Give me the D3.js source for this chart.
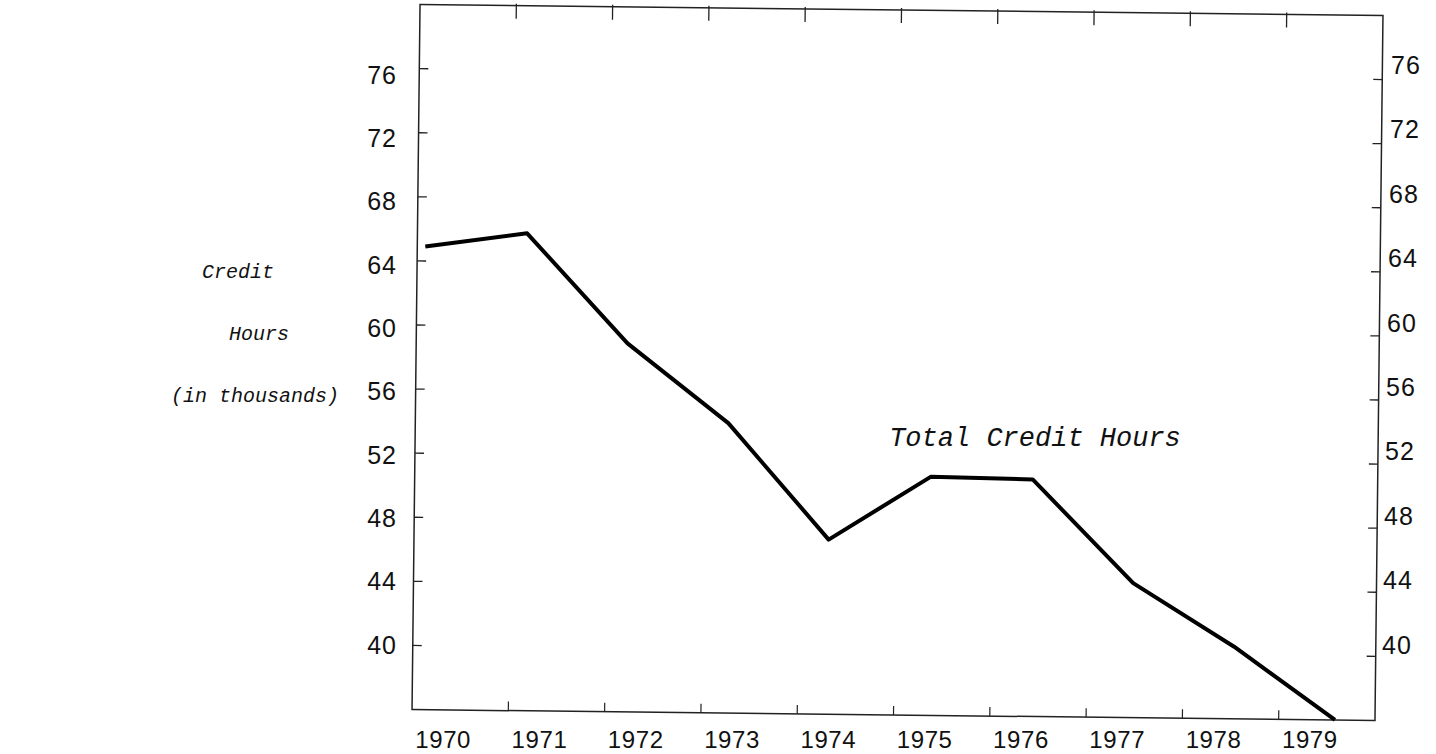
<!DOCTYPE html>
<html>
<head>
<meta charset="utf-8">
<script src="https://cdn.jsdelivr.net/npm/d3@7"></script>
<style>
  body { margin: 0; background: #fff; }
  svg { display: block; }
</style>
</head>
<body>
<div id="chart"></div>
<script>
var years = [1970, 1971, 1972, 1973, 1974, 1975, 1976, 1977, 1978, 1979];
var hours = [64.9, 65.8, 59.0, 54.1, 46.9, 50.9, 50.8, 44.4, 40.5, 36.0];
var yTicks = [40, 44, 48, 52, 56, 60, 64, 68, 72, 76];
var axisTitle = ["Credit", "Hours", "(in thousands)"];
var seriesLabel = "Total Credit Hours";

var width = 1436, height = 754;
var frame = { left: 416, right: 1379, top: 10, bottom: 715 };

var svg = d3.select("#chart")
            .append("svg")
            .attr("width", width)
            .attr("height", height);

// the scanned frame is tilted a little clockwise
var g = svg.append("g")
           .attr("transform", "rotate(0.65," + (frame.left + frame.right) / 2 + "," + (frame.top + frame.bottom) / 2 + ")");

var x = d3.scaleBand()
          .domain(years)
          .range([frame.left, frame.right]);

var xLine = d3.scalePoint()
              .domain(years)
              .range([424, 1339]);

var y = d3.scaleLinear()
          .domain([36, 80])
          .range([frame.bottom, frame.top]);

// the typed labels sit level, not tilted
var yLeft = d3.scaleLinear().domain([40, 76]).range([645, 75]);
var yRight = d3.scaleLinear().domain([40, 76]).range([645, 65]);
var xRight = d3.scaleLinear().domain([40, 76]).range([1382, 1391]);

var tickFont = "'Liberation Sans', Arial, sans-serif";
var textFont = "'Liberation Mono', 'Courier New', monospace";

// frame
g.append("rect")
 .attr("x", frame.left)
 .attr("y", frame.top)
 .attr("width", frame.right - frame.left)
 .attr("height", frame.bottom - frame.top)
 .attr("fill", "none")
 .attr("stroke", "#222")
 .attr("stroke-width", 1.5);

// year boundary ticks, top and bottom
var bounds = years.slice(1).map(function(d) { return x(d); });
g.selectAll(".ttick")
 .data(bounds)
 .enter().append("line")
 .attr("x1", function(d) { return d; })
 .attr("x2", function(d) { return d; })
 .attr("y1", frame.top - 2)
 .attr("y2", frame.top + 13)
 .attr("stroke", "#222")
 .attr("stroke-width", 1.3);

g.selectAll(".btick")
 .data(bounds)
 .enter().append("line")
 .attr("x1", function(d) { return d; })
 .attr("x2", function(d) { return d; })
 .attr("y1", frame.bottom)
 .attr("y2", frame.bottom - 9)
 .attr("stroke", "#222")
 .attr("stroke-width", 1.2);

// value ticks left and right
[frame.left, frame.right].forEach(function(edge, side) {
  g.selectAll(".vtick" + side)
   .data(yTicks)
   .enter().append("line")
   .attr("x1", edge)
   .attr("x2", side === 0 ? edge + 9 : edge - 9)
   .attr("y1", function(d) { return y(d); })
   .attr("y2", function(d) { return y(d); })
   .attr("stroke", "#222")
   .attr("stroke-width", 1.3);
});

svg.selectAll(".llab")
   .data(yTicks)
   .enter().append("text")
   .attr("x", 397)
   .attr("y", function(d) { return yLeft(d); })
   .attr("dy", "0.35em")
   .attr("text-anchor", "end")
   .attr("font-family", tickFont)
   .attr("font-size", "25px")
   .attr("letter-spacing", "1px")
   .attr("fill", "#111")
   .text(function(d) { return d; });

svg.selectAll(".rlab")
   .data(yTicks)
   .enter().append("text")
   .attr("x", function(d) { return xRight(d); })
   .attr("y", function(d) { return yRight(d); })
   .attr("dy", "0.35em")
   .attr("text-anchor", "start")
   .attr("font-family", tickFont)
   .attr("font-size", "25px")
   .attr("letter-spacing", "1px")
   .attr("fill", "#111")
   .text(function(d) { return d; });

// year labels
svg.selectAll(".xlab")
   .data(years)
   .enter().append("text")
   .attr("x", function(d) { return x(d) + x.bandwidth() / 2 - 21; })
   .attr("y", 748)
   .attr("text-anchor", "middle")
   .attr("font-family", tickFont)
   .attr("font-size", "24px")
   .attr("letter-spacing", "0.6px")
   .attr("fill", "#111")
   .text(function(d) { return d; });

// the line
var line = d3.line()
             .x(function(d, i) { return xLine(years[i]); })
             .y(function(d) { return y(d); });

g.append("path")
 .datum(hours)
 .attr("d", line)
 .attr("fill", "none")
 .attr("stroke", "#000")
 .attr("stroke-width", 4)
 .attr("stroke-linejoin", "round");

svg.append("text")
   .attr("x", 1035)
   .attr("y", 446)
   .attr("text-anchor", "middle")
   .attr("font-family", textFont)
   .attr("font-style", "italic")
   .attr("font-size", "27px")
   .attr("fill", "#111")
   .text(seriesLabel);

// left title
svg.selectAll(".ytitle")
   .data(axisTitle)
   .enter().append("text")
   .attr("x", function(d, i) { return [238, 259, 255][i]; })
   .attr("y", function(d, i) { return 278 + i * 62; })
   .attr("text-anchor", "middle")
   .attr("font-family", textFont)
   .attr("font-style", "italic")
   .attr("font-size", "20px")
   .attr("fill", "#111")
   .text(function(d) { return d; });
</script>
</body>
</html>
